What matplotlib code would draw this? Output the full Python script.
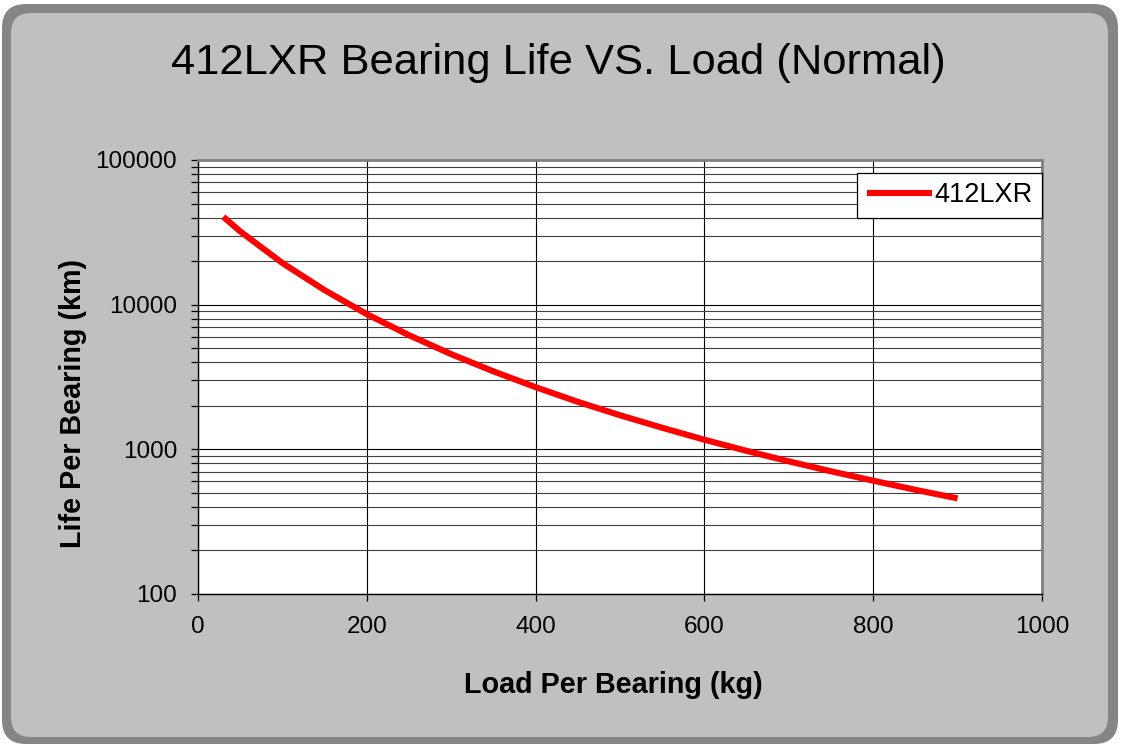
import numpy as np
import matplotlib
matplotlib.use("Agg")
import matplotlib.pyplot as plt
from matplotlib.patches import FancyBboxPatch
from matplotlib.ticker import FixedLocator, FuncFormatter, LogLocator, NullFormatter

plt.rcParams['font.family'] = ['Liberation Sans', 'DejaVu Sans']

# Values
load_kg = [30, 50, 100, 150, 200, 250, 300, 350, 400, 450,
           500, 550, 600, 650, 700, 750, 800, 850, 900]
life_km = [40500, 32100, 19400, 12600, 8600, 6150, 4550, 3460, 2690, 2130,
           1720, 1410, 1165, 976, 826, 705, 607, 525, 458]
series_name = "412LXR"
x_ticks = [0, 200, 400, 600, 800, 1000]
y_ticks = [100, 1000, 10000, 100000]

W, H = 1123, 745
fig = plt.figure(figsize=(W / 100, H / 100), dpi=100)
fig.patch.set_facecolor("white")

# Background panel with dark border / shadow
bg = fig.add_axes([0, 0, 1, 1], zorder=-10)
bg.set_xlim(0, W)
bg.set_ylim(H, 0)
bg.axis("off")
bg.add_patch(FancyBboxPatch((2, 4), 1116, 740, boxstyle="round,pad=0,rounding_size=24",
                            facecolor="#858585", edgecolor="none"))
bg.add_patch(FancyBboxPatch((11, 13), 1097, 724, boxstyle="round,pad=0,rounding_size=20",
                            facecolor="#c0c0c0", edgecolor="none"))

ax = fig.add_axes([198 / W, 1 - 594 / H, (1042 - 198) / W, (594 - 160) / H])
ax.set_facecolor("white")
ax.set_yscale("log")
ax.set_xlim(0, 1000)
ax.set_ylim(100, 100000)

ax.plot(load_kg, life_km, color="#ff0000", lw=4.4, solid_capstyle="butt",
        label=series_name, zorder=3)

ax.xaxis.set_major_locator(FixedLocator(x_ticks))
ax.yaxis.set_major_locator(FixedLocator(y_ticks))
ax.yaxis.set_minor_locator(LogLocator(base=10, subs=np.arange(2, 10)))
ax.yaxis.set_major_formatter(FuncFormatter(lambda v, p: f"{int(round(v))}"))
ax.yaxis.set_minor_formatter(NullFormatter())

ax.grid(True, which="major", axis="both", color="black", lw=0.8)
ax.grid(True, which="minor", axis="y", color="#404040", lw=0.8)
ax.set_axisbelow(True)

ax.tick_params(axis="both", which="both", direction="out", length=5, width=0.9,
               color="black", labelsize=17.5)
ax.tick_params(axis="x", pad=11)
ax.tick_params(axis="y", pad=10)
ax.tick_params(axis="x", which="minor", bottom=False)

for side in ["left", "bottom"]:
    ax.spines[side].set_color("black")
    ax.spines[side].set_linewidth(1.0)
for side in ["top", "right"]:
    ax.spines[side].set_color("#808080")
    ax.spines[side].set_linewidth(2.0)

leg = ax.legend(loc="upper right", bbox_to_anchor=(1.0, 0.97), borderaxespad=0,
                fancybox=False, framealpha=1, edgecolor="black", fontsize=19.5,
                handlelength=2.4, handletextpad=0.1, borderpad=0.35)
leg.get_frame().set_linewidth(0.9)

fig.text(558 / W, 1 - 74 / H, "412LXR Bearing Life VS. Load (Normal)",
         ha="center", va="baseline", fontsize=31.3)
fig.text(613 / W, 1 - 693 / H, "Load Per Bearing (kg)",
         ha="center", va="baseline", fontsize=20.7, fontweight="bold")
fig.text(73 / W, 1 - 403 / H, "Life Per Bearing (km)", rotation=90,
         ha="center", va="center", fontsize=20.7, fontweight="bold")

fig.savefig("out.png", dpi=100)
